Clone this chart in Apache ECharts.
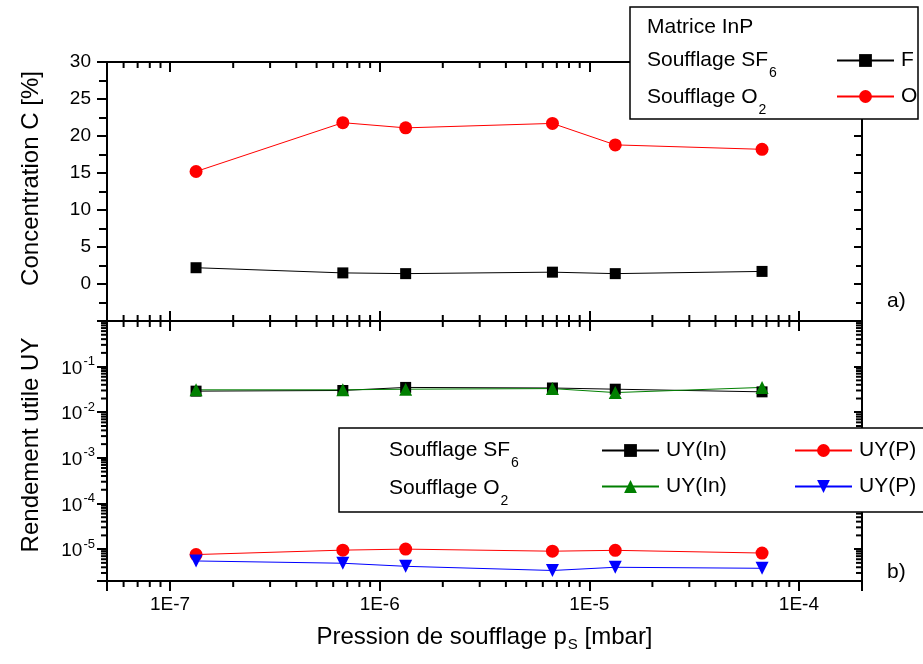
<!DOCTYPE html>
<html>
<head>
<meta charset="utf-8">
<script src="https://cdn.jsdelivr.net/npm/echarts@6/dist/echarts.min.js"></script>
<style>
html, body { margin: 0; padding: 0; background: #fff; }
#chart { width: 923px; height: 664px; }
</style>
</head>
<body>
<div id="chart"></div>
<script>
// blowing pressure p_S [mbar]
const pressure = [1.33e-7, 6.67e-7, 1.33e-6, 6.67e-6, 1.33e-5, 6.67e-5];
// a) concentration C [%]
const concF = [2.2, 1.5, 1.4, 1.6, 1.4, 1.7];
const concO = [15.2, 21.8, 21.1, 21.7, 18.8, 18.2];
// b) useful yield UY
const uyInSF6 = [0.029, 0.030, 0.035, 0.034, 0.032, 0.028];
const uyPSF6 = [7.6e-6, 9.5e-6, 1.0e-5, 9.0e-6, 9.4e-6, 8.2e-6];
const uyInO2 = [0.031, 0.031, 0.032, 0.033, 0.027, 0.035];
const uyPO2 = [5.5e-6, 4.9e-6, 4.2e-6, 3.4e-6, 4.0e-6, 3.8e-6];

const FONT = "'Liberation Sans', Arial, Helvetica, sans-serif";
const X_MIN = 5e-8, X_MAX = 2e-4;
const UY_MIN = 2e-6, UY_MAX = 1;

const pairs = ys => pressure.map((x, i) => [x, ys[i]]);

// 2..9 x 10^k minor ticks inside a log range
function logMinors(lo, hi) {
    let out = [];
    for (let k = Math.floor(Math.log10(lo)); k <= Math.ceil(Math.log10(hi)); k++) {
        for (let m = 2; m <= 9; m++) {
            let v = m * Math.pow(10, k);
            if (v > lo * 1.0001 && v < hi * 0.9999) out.push(v);
        }
    }
    return out;
}
const isDecade = v => Math.abs(Math.log10(v) - Math.round(Math.log10(v))) < 1e-6;

const axisLine = { show: true, onZero: false, lineStyle: { color: '#000', width: 2 } };
const tickStyle = { color: '#000', width: 2 };

function xAxis(grid, pos, inside, labels) {
    return {
        type: 'log', gridIndex: grid, position: pos, min: X_MIN, max: X_MAX,
        axisLine: axisLine,
        axisTick: { show: true, inside: inside, length: 10, lineStyle: tickStyle },
        axisLabel: labels ? {
            show: true, margin: 14, fontSize: 19, color: '#000', fontFamily: FONT,
            formatter: v => isDecade(v) ? '1E' + Math.round(Math.log10(v)) : ''
        } : { show: false },
        splitLine: { show: false }
    };
}

function minorTicks(xIdx, yIdx, items, bottomOut) {
    return {
        type: 'custom', xAxisIndex: xIdx, yAxisIndex: yIdx, silent: true, clip: false, z: 3,
        data: items,
        renderItem: (params, api) => {
            let cs = params.coordSys;
            let p = api.coord([api.value(0), api.value(1)]);
            let L = 6, lines;
            if (api.value(2) === 0) {
                let top = cs.y, bot = cs.y + cs.height;
                lines = [[p[0], top, p[0], top + L],
                    bottomOut ? [p[0], bot, p[0], bot + L] : [p[0], bot - L, p[0], bot]];
            } else {
                let l = cs.x, r = cs.x + cs.width;
                lines = [[l - L, p[1], l, p[1]], [r - L, p[1], r, p[1]]];
            }
            return {
                type: 'group',
                children: lines.map(c => ({
                    type: 'line',
                    shape: { x1: c[0], y1: c[1], x2: c[2], y2: c[3] },
                    style: { stroke: '#000', lineWidth: 2 }
                }))
            };
        }
    };
}

const xMinor = logMinors(X_MIN, X_MAX);
const yMinor = logMinors(UY_MIN, UY_MAX);

const subRich = {
    a: { fontSize: 21, fontFamily: FONT, color: '#000', verticalAlign: 'top' },
    s: { fontSize: 14, fontFamily: FONT, color: '#000', verticalAlign: 'bottom', padding: [16, 0, 0, 1] }
};

function label(x, y, text, z) {
    return {
        type: 'text', x: x, y: y, z: z || 12,
        style: { text: text, rich: subRich, fill: '#000', verticalAlign: 'top', font: '21px ' + FONT }
    };
}

const legendBase = {
    orient: 'vertical', padding: 0, itemWidth: 57, itemHeight: 16, itemGap: 15, z: 10,
    selectedMode: false,
    textStyle: { fontSize: 21, fontFamily: FONT, color: '#000', padding: [0, 0, 0, 2] },
    formatter: name => name.split('|')[0]
};

let chart = echarts.init(document.getElementById('chart'));

let option = {
    animation: false,
    backgroundColor: '#fff',
    grid: [
        { left: 107, top: 62, width: 755, height: 259 },
        { left: 107, top: 321, width: 755, height: 260 }
    ],
    xAxis: [
        xAxis(0, 'bottom', true, false),
        xAxis(0, 'top', true, false),
        xAxis(1, 'top', true, false),
        Object.assign(xAxis(1, 'bottom', false, true), {
            name: '{a|Pression de soufflage p}{s|S}{a| [mbar]}',
            nameLocation: 'middle', nameGap: 44,
            nameTextStyle: {
                rich: {
                    a: { fontSize: 24, fontFamily: FONT, color: '#000', verticalAlign: 'top' },
                    s: { fontSize: 15, fontFamily: FONT, color: '#000', verticalAlign: 'bottom', padding: [12, 0, 0, 1] }
                }
            }
        })
    ],
    yAxis: [
        {
            type: 'value', gridIndex: 0, position: 'left', min: -5, max: 30, interval: 5,
            name: 'Concentration C [%]', nameLocation: 'middle', nameGap: 64,
            nameTextStyle: { fontSize: 24, fontFamily: FONT, color: '#000', padding: [0, 0, 0, 26] },
            axisLine: axisLine,
            axisTick: { show: true, inside: false, length: 10, lineStyle: tickStyle },
            minorTick: { show: true, splitNumber: 2, length: 8, lineStyle: tickStyle },
            axisLabel: { margin: 16, fontSize: 19, color: '#000', fontFamily: FONT, formatter: v => v < 0 ? '' : v },
            splitLine: { show: false }
        },
        {
            type: 'value', gridIndex: 0, position: 'right', min: -5, max: 30, interval: 5,
            axisLine: axisLine,
            axisTick: { show: true, inside: true, length: 8, lineStyle: tickStyle },
            minorTick: { show: true, splitNumber: 2, length: 6, lineStyle: tickStyle },
            axisLabel: { show: false },
            splitLine: { show: false }
        },
        {
            type: 'log', gridIndex: 1, position: 'left', min: UY_MIN, max: UY_MAX,
            name: 'Rendement utile UY', nameLocation: 'middle', nameGap: 64,
            nameTextStyle: { fontSize: 24, fontFamily: FONT, color: '#000', padding: [0, 0, 0, 12] },
            axisLine: axisLine,
            axisTick: { show: true, inside: false, length: 10, lineStyle: tickStyle },
            axisLabel: {
                margin: 12, color: '#000', fontFamily: FONT,
                formatter: v => {
                    let e = Math.round(Math.log10(v));
                    return isDecade(v) && e <= -1 && e >= -5 ? '{a|10}{e|' + e + '}' : '';
                },
                rich: {
                    a: { fontSize: 19, fontFamily: FONT, color: '#000', verticalAlign: 'bottom' },
                    e: { fontSize: 13, fontFamily: FONT, color: '#000', verticalAlign: 'top', padding: [0, 0, 10, 1] }
                }
            },
            splitLine: { show: false }
        },
        {
            type: 'log', gridIndex: 1, position: 'right', min: UY_MIN, max: UY_MAX,
            axisLine: axisLine,
            axisTick: { show: true, inside: true, length: 8, lineStyle: tickStyle },
            axisLabel: { show: false },
            splitLine: { show: false }
        }
    ],
    legend: [
        Object.assign({}, legendBase, { data: ['F', 'O'], left: 836, top: 50 }),
        Object.assign({}, legendBase, { data: ['UY(In)|SF6', 'UY(In)|O2'], left: 601, top: 440 }),
        Object.assign({}, legendBase, { data: ['UY(P)|SF6', 'UY(P)|O2'], left: 794, top: 440 })
    ],
    graphic: [
        { type: 'rect', z: 8, shape: { x: 630, y: 7, width: 288, height: 112 },
          style: { fill: '#fff', stroke: '#000', lineWidth: 1.5 } },
        label(647, 17, '{a|Matrice InP}'),
        label(647, 50, '{a|Soufflage SF}{s|6}'),
        label(647, 87, '{a|Soufflage O}{s|2}'),
        { type: 'rect', z: 8, shape: { x: 339, y: 428, width: 640, height: 84 },
          style: { fill: '#fff', stroke: '#000', lineWidth: 1.5 } },
        label(389, 440, '{a|Soufflage SF}{s|6}'),
        label(389, 478, '{a|Soufflage O}{s|2}'),
        label(887, 291, '{a|a)}'),
        label(887, 562, '{a|b)}')
    ],
    series: [
        {
            name: 'F', type: 'line', xAxisIndex: 0, yAxisIndex: 0, data: pairs(concF),
            symbol: 'rect', symbolSize: 11, itemStyle: { color: '#000' }, lineStyle: { color: '#000', width: 1 }
        },
        {
            name: 'O', type: 'line', xAxisIndex: 0, yAxisIndex: 0, data: pairs(concO),
            symbol: 'circle', symbolSize: 13, itemStyle: { color: '#ff0000' }, lineStyle: { color: '#ff0000', width: 1 }
        },
        {
            name: 'UY(In)|SF6', type: 'line', xAxisIndex: 3, yAxisIndex: 2, data: pairs(uyInSF6),
            symbol: 'rect', symbolSize: 11, itemStyle: { color: '#000' }, lineStyle: { color: '#000', width: 1 }
        },
        {
            name: 'UY(P)|SF6', type: 'line', xAxisIndex: 3, yAxisIndex: 2, data: pairs(uyPSF6),
            symbol: 'circle', symbolSize: 13, itemStyle: { color: '#ff0000' }, lineStyle: { color: '#ff0000', width: 1 }
        },
        {
            name: 'UY(In)|O2', type: 'line', xAxisIndex: 3, yAxisIndex: 2, data: pairs(uyInO2),
            symbol: 'triangle', symbolSize: 13, itemStyle: { color: '#007f00' }, lineStyle: { color: '#007f00', width: 1 }
        },
        {
            name: 'UY(P)|O2', type: 'line', xAxisIndex: 3, yAxisIndex: 2, data: pairs(uyPO2),
            symbol: 'triangle', symbolRotate: 180, symbolSize: 13, itemStyle: { color: '#0000ff' }, lineStyle: { color: '#0000ff', width: 1 }
        },
        minorTicks(0, 0, xMinor.map(v => [v, 10, 0]), false),
        minorTicks(3, 2, xMinor.map(v => [v, 1e-3, 0]).concat(yMinor.map(v => [1e-6, v, 1])), true)
    ]
};

chart.setOption(option);
</script>
</body>
</html>
